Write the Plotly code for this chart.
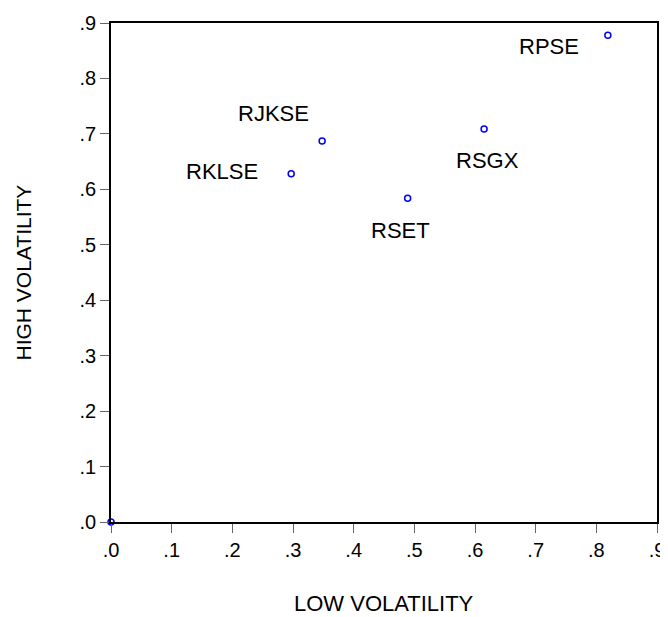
import plotly.graph_objects as go

# Data
names = ["", "RKLSE", "RJKSE", "RSET", "RSGX", "RPSE"]
low_vol = [0.0, 0.297, 0.348, 0.489, 0.615, 0.819]
high_vol = [0.0, 0.628, 0.687, 0.584, 0.709, 0.878]
tick_vals = [0.0, 0.1, 0.2, 0.3, 0.4, 0.5, 0.6, 0.7, 0.8, 0.9]
tick_text = [".0", ".1", ".2", ".3", ".4", ".5", ".6", ".7", ".8", ".9"]

# label offsets in pixels (styling)
label_shift = {
    "RKLSE": (-69, 2),
    "RJKSE": (-49, 28),
    "RSET": (-7, -32),
    "RSGX": (3, -32),
    "RPSE": (-59, -11),
}

FONT = "Liberation Sans, Arial, sans-serif"

fig = go.Figure()
fig.add_trace(go.Scatter(
    x=low_vol, y=high_vol, mode="markers",
    marker=dict(symbol="circle-open", size=6, color="#0000ff", line=dict(width=1.5, color="#0000ff")),
    cliponaxis=False, showlegend=False, hoverinfo="skip",
))

for n, xv, yv in zip(names, low_vol, high_vol):
    if not n:
        continue
    dx, dy = label_shift[n]
    fig.add_annotation(x=xv, y=yv, text=n, showarrow=False, xshift=dx, yshift=dy,
                       font=dict(family=FONT, size=22, color="black"))

axis_common = dict(
    range=[0, 0.9], tickvals=tick_vals, ticktext=tick_text,
    showgrid=False, zeroline=False, showline=True, mirror=True,
    linecolor="black", linewidth=1.5, automargin=False,
    ticks="outside", ticklen=9, tickwidth=1.3, tickcolor="#666666",
    tickfont=dict(family=FONT, size=20, color="black"),
)

# the page body has an 8px margin, so the figure is sized to fill the rest of the window
fig.update_layout(
    width=660, height=609,
    margin=dict(l=103, r=11, t=15, b=95, autoexpand=False),
    paper_bgcolor="white", plot_bgcolor="white",
    xaxis=axis_common,
    yaxis=axis_common,
    annotations=list(fig.layout.annotations) + [
        dict(text="LOW VOLATILITY", xref="paper", yref="paper", x=0.5, y=0,
             yshift=-81, showarrow=False, yanchor="middle",
             font=dict(family=FONT, size=22, color="black")),
        dict(text="HIGH VOLATILITY", xref="paper", yref="paper", x=0, y=0.5,
             xshift=-88, showarrow=False, xanchor="center", textangle=-90,
             font=dict(family=FONT, size=21, color="black")),
    ],
)

fig.write_html("out.html")
